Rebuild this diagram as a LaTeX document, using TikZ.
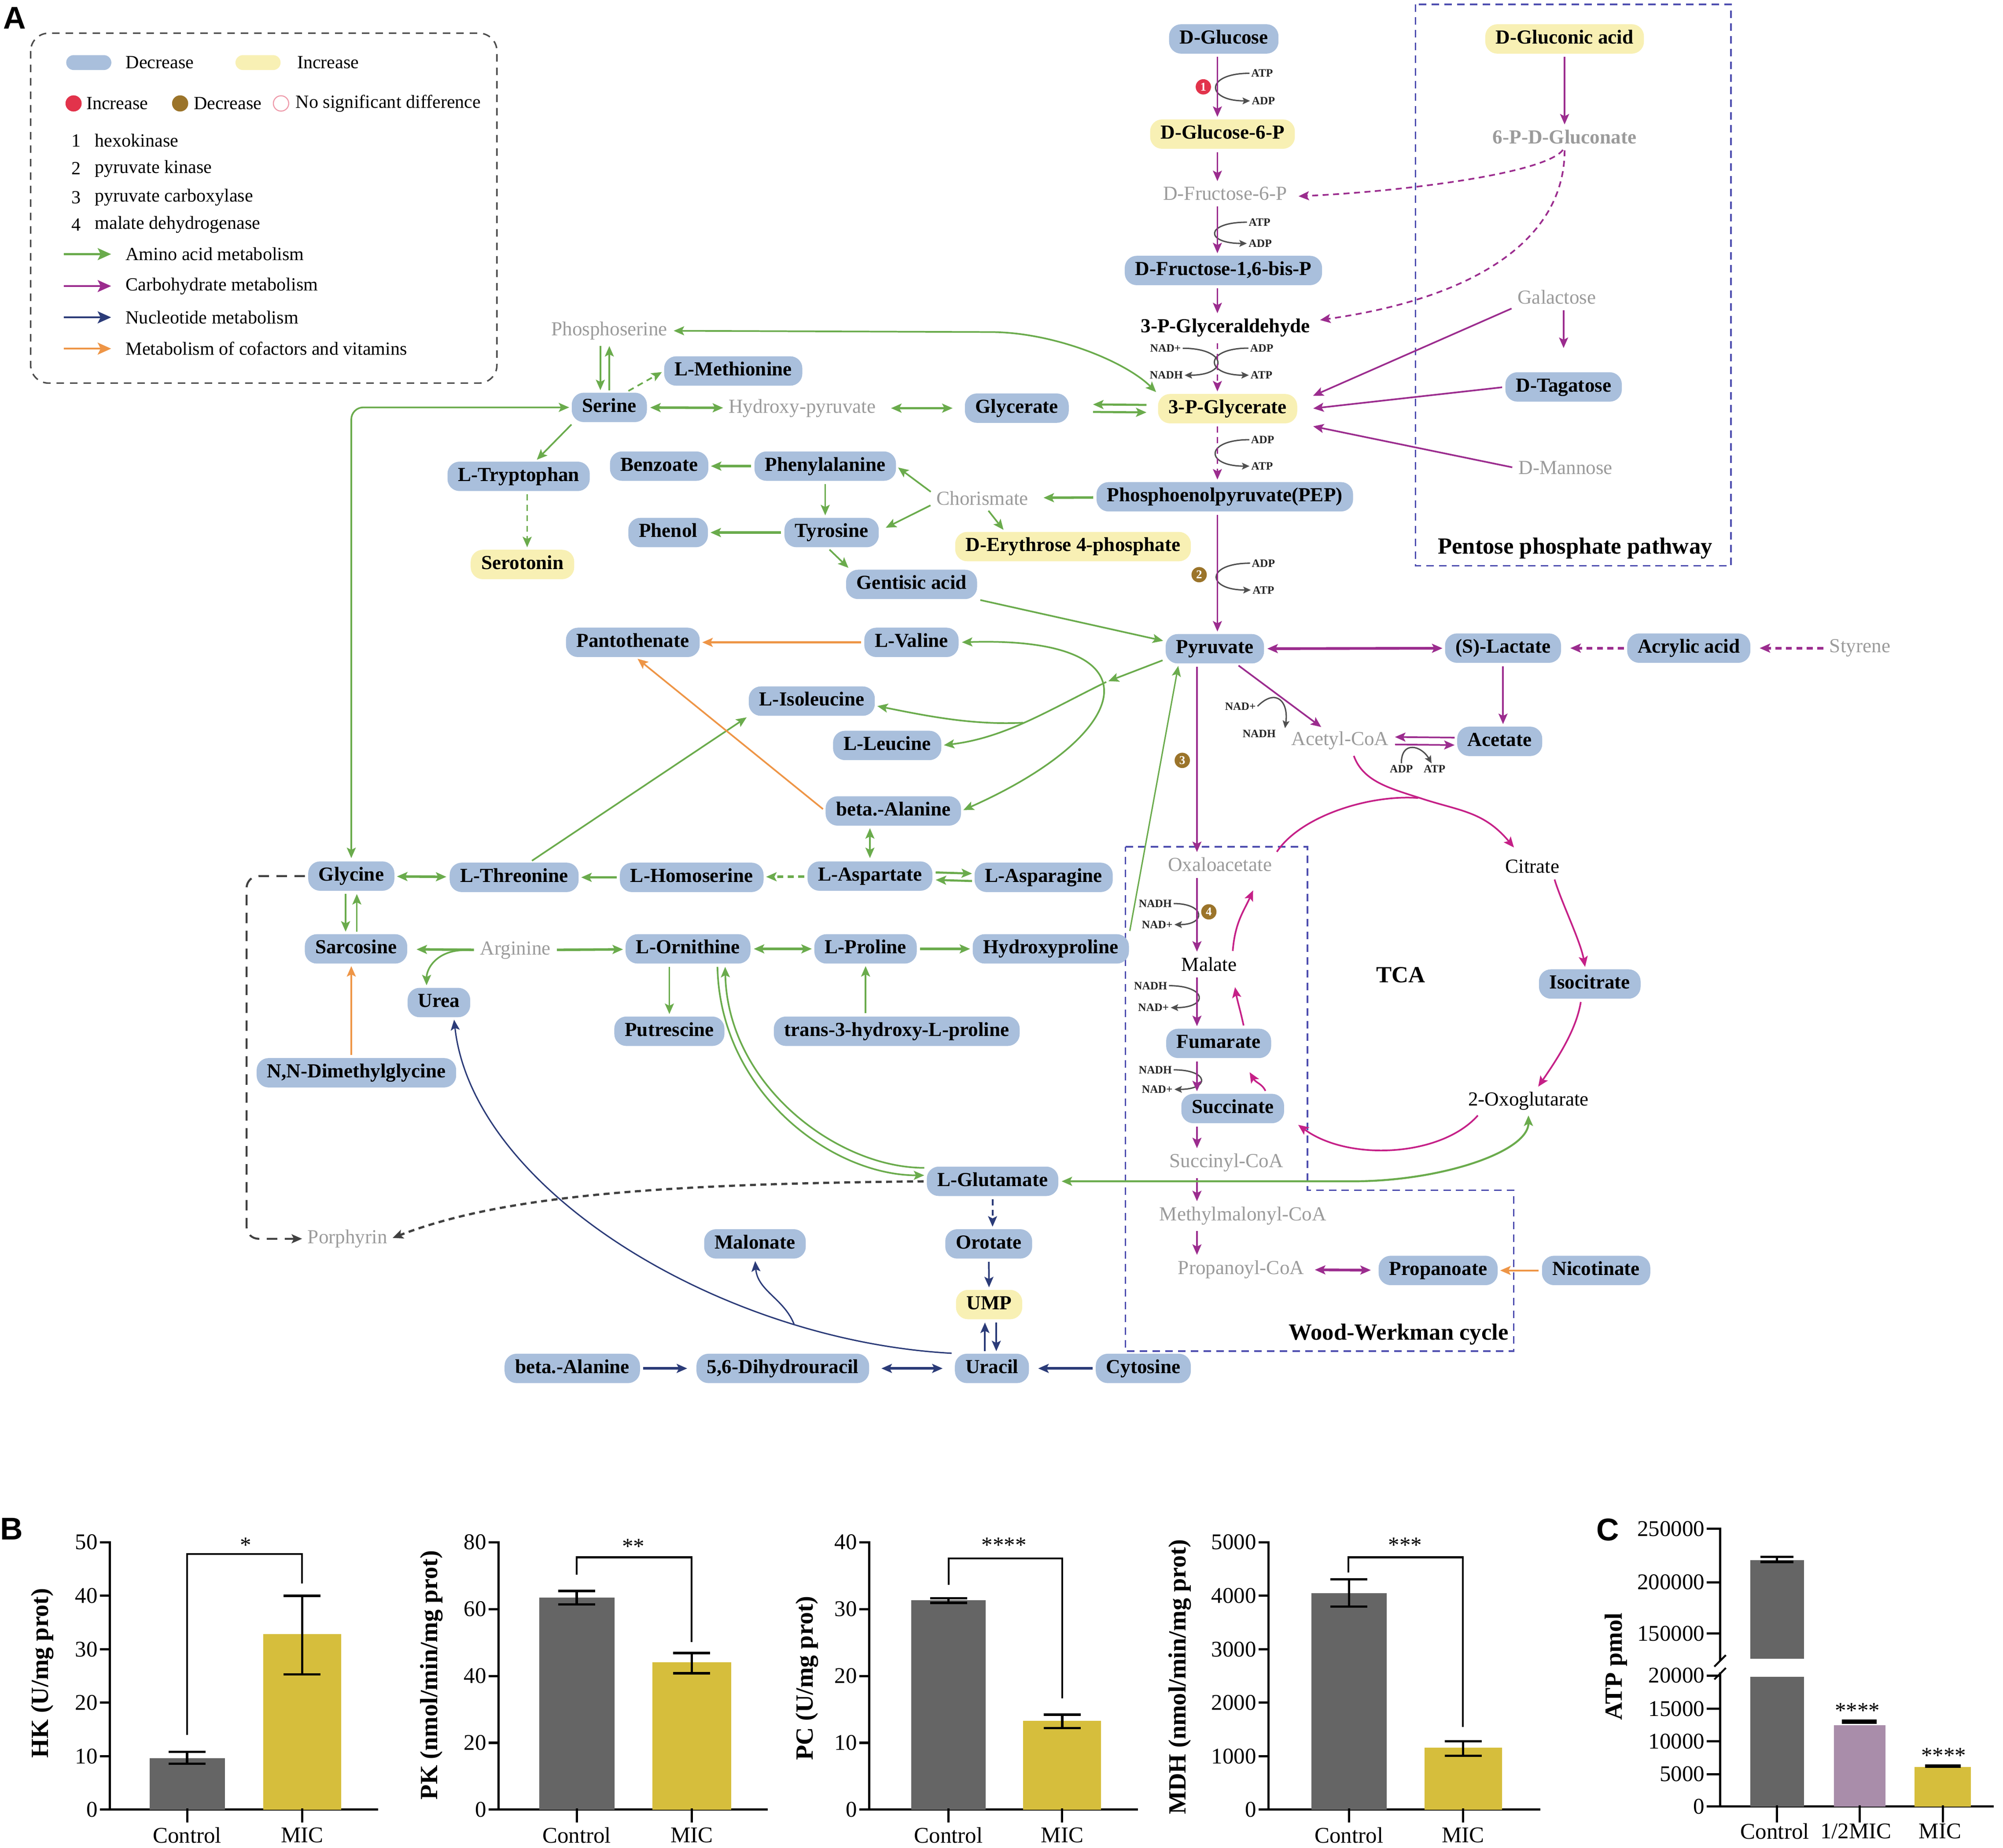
\documentclass[tikz,border=0pt]{standalone}
\usepackage{fontspec}
\setmainfont{Liberation Serif}
\setsansfont{Liberation Sans}
\usepackage{xcolor}
\usetikzlibrary{arrows.meta, calc, positioning}
\definecolor{decblue}{HTML}{A9BFDC}
\definecolor{incyellow}{HTML}{F8F0B4}
\definecolor{txtgray}{HTML}{9B9B9B}
\definecolor{aagreen}{HTML}{6AAB4C}
\definecolor{carbpurple}{HTML}{9B2C8E}
\definecolor{tcapink}{HTML}{C52087}
\definecolor{nucnavy}{HTML}{2B3B78}
\definecolor{vitorange}{HTML}{EE9546}
\definecolor{boxblue}{HTML}{4D4DAF}
\definecolor{cofgray}{HTML}{4F4F4F}
\definecolor{enzred}{HTML}{E2334B}
\definecolor{enzbrown}{HTML}{9B742A}
\definecolor{enzpink}{HTML}{EE9AAA}
\definecolor{bargray}{HTML}{656565}
\definecolor{baryellow}{HTML}{D6BE3C}
\definecolor{barmauve}{HTML}{A98DAA}

\newcommand{\metabfont}{\fontsize{13.3}{15}\selectfont\bfseries}
\newcommand{\namefont}{\fontsize{13.3}{15}\selectfont}
\newcommand{\regionfont}{\fontsize{15.5}{17}\selectfont\bfseries}
\newcommand{\coffont}{\fontsize{7.5}{8}\selectfont\bfseries}
\newcommand{\enzfont}{\fontsize{8}{8}\selectfont\bfseries}
\newcommand{\legfont}{\fontsize{12.4}{14}\selectfont}
\newcommand{\tickfont}{\fontsize{15}{17}\selectfont}
\newcommand{\axisfont}{\fontsize{16.5}{18}\selectfont\bfseries}
\newcommand{\panelfont}{\fontsize{21}{21}\selectfont\sffamily\bfseries}

\tikzset{
  % metabolite boxes
  metab/.style={
    rounded corners=8pt
    , minimum height=0.69cm
    , inner xsep=7pt
    , inner ysep=1pt
    , text height=9.3pt
    , text depth=2.9pt
    , font=\metabfont
    , anchor=center
  },
  dec/.style={metab, fill=decblue},
  inc/.style={metab, fill=incyellow},
  % metabolites without a box
  ndet/.style={font=\namefont, text=txtgray, inner sep=2pt},
  ndetb/.style={font=\metabfont, text=txtgray, inner sep=2pt},
  mtxt/.style={font=\namefont, inner sep=2pt},
  mtxtb/.style={font=\metabfont, inner sep=2pt},
  region/.style={font=\regionfont, inner sep=1pt},
  cof/.style={font=\coffont, text=black!85, inner sep=1pt},
  enz/.style={circle, fill=#1, text=white, font=\enzfont, inner sep=0pt, minimum size=0.36cm},
  pathbox/.style={draw=boxblue, line width=1pt, dash pattern=on 5pt off 3.5pt},
}
\tikzset{
  % connector styles
  flow/.style={line width=1.1pt, shorten >=1.5pt, shorten <=2pt, ->},
  dashln/.style={dash pattern=on 4pt off 3pt},
  aa/.style={flow, draw=aagreen},
  aathick/.style={aa, line width=1.7pt},
  carb/.style={flow, draw=carbpurple},
  carbthick/.style={carb, line width=1.8pt},
  tca/.style={flow, draw=tcapink},
  nuc/.style={flow, draw=nucnavy},
  nucthick/.style={nuc, line width=1.7pt},
  vit/.style={flow, draw=vitorange},
  bkdash/.style={flow, draw=black!75},
  cofarr/.style={draw=cofgray, line width=0.9pt, >={Stealth[length=5pt,width=4.5pt,inset=1pt]}, ->},
}
\tikzset{
  % legend and chart styles
  legbox/.style={draw=black!70, line width=1pt, dash pattern=on 5pt off 4pt, rounded corners=12pt},
  legpill/.style={rounded corners=5pt, minimum width=1.06cm, minimum height=0.35cm, inner sep=0pt},
  legtxt/.style={font=\legfont, anchor=west, inner sep=1pt},
  legarr/.style={line width=1.3pt, >={Stealth[length=9pt,width=8pt,inset=2pt]}, ->},
  panlab/.style={font=\panelfont, inner sep=0pt},
  axisln/.style={line width=1.5pt, line cap=rect},
  errln/.style={line width=1.6pt},
  sigln/.style={line width=1.2pt},
  ticklab/.style={font=\tickfont, inner sep=1.5pt},
  starlab/.style={font=\tickfont, inner sep=0pt},
  axlab/.style={font=\axisfont, rotate=90, inner sep=0pt},
}

\begin{document}
\begin{tikzpicture}[x=0.03cm, y=-0.03cm, >={Stealth[length=7pt,width=6pt,inset=1.5pt]}]
  \useasboundingbox (0,0) rectangle (1568,1446.7);

  % ---------------- legend ----------------
  \draw[legbox] (24,26) rectangle (389,300);
  \node[panlab] (labA) at (11.4,14) {A};
  \node[legpill, fill=decblue] (lgdec) at (69.5,49) {};
  \node[legtxt, right=0.29cm of lgdec] (lgdect) {Decrease};
  \node[legpill, fill=incyellow] (lginc) at (202,49) {};
  \node[legtxt, right=0.34cm of lginc] (lginct) {Increase};
  \node[enz=enzred, minimum size=0.38cm] (lgup) at (57.6,81) {};
  \node[legtxt, right=0.06cm of lgup] (lgupt) {Increase};
  \node[enz=enzbrown, minimum size=0.38cm] (lgdown) at (141,81) {};
  \node[legtxt, right=0.08cm of lgdown] (lgdownt) {Decrease};
  \node[circle, draw=enzpink, line width=0.7pt, minimum size=0.36cm, inner sep=0pt] (lgns) at (220,81) {};
  \node[legtxt, right=0.11cm of lgns] (lgnst) {No significant difference};
  \node[legtxt] (lgn1) at (54.5,110) {1};
  \node[legtxt, right=0.25cm of lgn1] (lgn1t) {hexokinase};
  \node[legtxt] (lgn2) at (54.5,132) {2};
  \node[legtxt, right=0.25cm of lgn2] (lgn2t) {pyruvate kinase};
  \node[legtxt] (lgn3) at (54.5,154.5) {3};
  \node[legtxt, right=0.25cm of lgn3] (lgn3t) {pyruvate carboxylase};
  \node[legtxt] (lgn4) at (54.5,176) {4};
  \node[legtxt, right=0.25cm of lgn4] (lgn4t) {malate dehydrogenase};
  \node[legtxt] (lgaa) at (97,199) {Amino acid metabolism};
  \node[legtxt] (lgcarb) at (97,224) {Carbohydrate metabolism};
  \node[legtxt] (lgnuc) at (97,248.5) {Nucleotide metabolism};
  \node[legtxt] (lgvit) at (97,273) {Metabolism of cofactors and vitamins};
  \draw[legarr, draw=aagreen] ([xshift=-1.41cm]lgaa.west) -- ([xshift=-0.3cm]lgaa.west);
  \draw[legarr, draw=carbpurple] ([xshift=-1.41cm]lgcarb.west) -- ([xshift=-0.3cm]lgcarb.west);
  \draw[legarr, draw=nucnavy] ([xshift=-1.41cm]lgnuc.west) -- ([xshift=-0.3cm]lgnuc.west);
  \draw[legarr, draw=vitorange] ([xshift=-1.41cm]lgvit.west) -- ([xshift=-0.3cm]lgvit.west);

  % ---------------- pathway boxes ----------------
  \draw[pathbox] (1108,3.5) rectangle (1355,443);
  \draw[pathbox] (881,663) -- (1023.5,663) -- (1023.5,932) -- (1185,932)
    -- (1185,1058) -- (881,1058) -- cycle;

  % ---------------- glycolysis ----------------
  \coordinate (gx) at (953,0);
  \coordinate (tx) at (937,0);
  \node[dec] (glc) at (958,30.5) {D-Glucose};
  \node[inc] (g6p) at (957,105) {D-Glucose-6-P};
  \node[ndet] (f6p) at (959,151.4) {D-Fructose-6-P};
  \node[dec] (fbp) at (957.7,211.8) {D-Fructose-1,6-bis-P};
  \node[mtxtb] (gap) at (959.3,256.7) {3-P-Glyceraldehyde};
  \node[inc] (pga) at (961,320) {3-P-Glycerate};
  \node[dec] (pep) at (958.8,389) {Phosphoenolpyruvate(PEP)};
  \node[dec] (pyr) at (951,508) {Pyruvate};

  % pentose phosphate pathway
  \node[inc] (glcn) at (1224.8,30.5) {D-Gluconic acid};
  \node[ndetb] (pgcn) at (1224.8,107.3) {6-P-D-Gluconate};
  \node[ndet] (gal) at (1218.7,232.6) {Galactose};
  \node[dec] (tag) at (1224,303) {D-Tagatose};
  \node[ndet] (man) at (1225.5,366.4) {D-Mannose};
  \node[region] (ppplab) at (1233,429.3) {Pentose phosphate pathway};

  % ---------------- amino acids ----------------
  \node[ndet] (pser) at (477,259) {Phosphoserine};
  \node[dec] (met) at (574,290.5) {L-Methionine};
  \node[dec] (ser) at (477,319) {Serine};
  \node[ndet] (hpyr) at (628,319.6) {Hydroxy-pyruvate};
  \node[dec] (glyc) at (796,319.6) {Glycerate};
  \node[dec] (trp) at (406,373) {L-Tryptophan};
  \node[inc] (sero) at (409,442) {Serotonin};
  \node[dec] (benz) at (516,365) {Benzoate};
  \node[dec] (phe) at (646,365) {Phenylalanine};
  \node[ndet] (chor) at (769,390) {Chorismate};
  \node[dec] (phenol) at (523,417) {Phenol};
  \node[dec] (tyr) at (651,417) {Tyrosine};
  \node[inc] (e4p) at (840,428) {D-Erythrose 4-phosphate};
  \node[dec] (gent) at (713.6,457.6) {Gentisic acid};
  \node[dec] (pant) at (495.4,503) {Pantothenate};
  \node[dec] (val) at (713.5,503) {L-Valine};
  \node[dec] (ile) at (635.5,549) {L-Isoleucine};
  \node[dec] (leu) at (694.5,583.7) {L-Leucine};
  \node[dec] (bala) at (699.3,635) {beta.-Alanine};
  \node[dec] (gly) at (275,686) {Glycine};
  \node[dec] (thr) at (402.5,687) {L-Threonine};
  \node[dec] (hser) at (541.5,687) {L-Homoserine};
  \node[dec] (asp) at (681,686) {L-Aspartate};
  \node[dec] (asn) at (817,687) {L-Asparagine};
  \node[dec] (sar) at (278.7,743) {Sarcosine};
  \node[ndet] (arg) at (403.5,744) {Arginine};
  \node[dec] (orn) at (538.6,743) {L-Ornithine};
  \node[dec] (pro) at (677.6,743) {L-Proline};
  \node[dec] (hyp) at (822.6,743) {Hydroxyproline};
  \node[dec] (urea) at (343.6,785) {Urea};
  \node[dec] (put) at (524,807.5) {Putrescine};
  \node[dec] (thp) at (702,807.5) {trans-3-hydroxy-L-proline};
  \node[dec] (dmg) at (279,840) {N,N-Dimethylglycine};
  \node[dec] (glu) at (777,925) {L-Glutamate};
  \node[ndet] (por) at (272,970) {Porphyrin};

  % ---------------- nucleotides ----------------
  \node[dec] (mal) at (591,974) {Malonate};
  \node[dec] (oro) at (774,974) {Orotate};
  \node[inc] (ump) at (774.3,1021.5) {UMP};
  \node[dec] (bala2) at (448,1071.5) {beta.-Alanine};
  \node[dec] (dhu) at (612.8,1071.5) {5,6-Dihydrouracil};
  \node[dec] (ura) at (776.5,1071.5) {Uracil};
  \node[dec] (cyt) at (895,1071.5) {Cytosine};

  % ---------------- TCA / Wood-Werkman ----------------
  \node[dec] (lac) at (1176.6,507.5) {(S)-Lactate};
  \node[dec] (acr) at (1322,507.5) {Acrylic acid};
  \node[ndet] (sty) at (1456,507.5) {Styrene};
  \node[ndet] (acoa) at (1049,580) {Acetyl-CoA};
  \node[dec] (acet) at (1174,580.5) {Acetate};
  \node[ndet] (oaa) at (955,677) {Oxaloacetate};
  \node[mtxt] (cit) at (1199.6,678.6) {Citrate};
  \node[mtxt] (malt) at (946.5,755) {Malate};
  \node[region] (tcalab) at (1096.7,763.5) {TCA};
  \node[dec] (icit) at (1244.5,770.5) {Isocitrate};
  \node[dec] (fum) at (954,817) {Fumarate};
  \node[dec] (suc) at (965,868) {Succinate};
  \node[mtxt] (ogl) at (1196.5,862) {2-Oxoglutarate};
  \node[ndet] (scoa) at (960,910.5) {Succinyl-CoA};
  \node[ndet] (mmcoa) at (973,952) {Methylmalonyl-CoA};
  \node[ndet] (ppcoa) at (971.5,994) {Propanoyl-CoA};
  \node[dec] (ppa) at (1125.8,994.8) {Propanoate};
  \node[dec] (nic) at (1249.5,994.8) {Nicotinate};
  \node[region] (wwlab) at (1094.9,1044.7) {Wood-Werkman cycle};

  % ---------------- cofactors and enzymes ----------------
  \node[cof] (atp1) at (988,57.4) {ATP};
  \node[cof] (adp1) at (989,79) {ADP};
  \node[cof] (atp2) at (986,174) {ATP};
  \node[cof] (adp2) at (986.5,190.6) {ADP};
  \node[cof] (nad3) at (912.4,272.7) {NAD+};
  \node[cof] (nadh3) at (913,293.8) {NADH};
  \node[cof] (adp3) at (987.7,272.6) {ADP};
  \node[cof] (atp3) at (987.5,293.8) {ATP};
  \node[cof] (adp4) at (988.4,344.3) {ADP};
  \node[cof] (atp4) at (988,365) {ATP};
  \node[cof] (adp5) at (989,441) {ADP};
  \node[cof] (atp5) at (989,462) {ATP};
  \node[cof] (nad6) at (971,553) {NAD+};
  \node[cof] (nadh6) at (985.7,574.5) {NADH};
  \node[cof] (adp7) at (1097,602) {ADP};
  \node[cof] (atp7) at (1123,602) {ATP};
  \node[cof] (nadh8) at (904.4,707.5) {NADH};
  \node[cof] (nad8) at (905.9,724) {NAD+};
  \node[cof] (nadh9) at (900.7,771.8) {NADH};
  \node[cof] (nad9) at (903,789) {NAD+};
  \node[cof] (nadh10) at (904.4,837.7) {NADH};
  \node[cof] (nad10) at (905.9,853) {NAD+};
  \node[enz=enzred] (enz1) at (942,68) {1};
  \node[enz=enzbrown] (enz2) at (938.7,450) {2};
  \node[enz=enzbrown] (enz3) at (925.5,595.4) {3};
  \node[enz=enzbrown] (enz4) at (946.3,714) {4};

  \draw[cofarr] (atp1.west) .. controls +(-35,0) and +(-35,0) .. (adp1.west);
  \draw[cofarr] (atp2.west) .. controls +(-33,0) and +(-33,0) .. (adp2.west);
  \draw[cofarr] (nad3.east) .. controls +(35,0) and +(35,0) .. (nadh3.east);
  \draw[cofarr] (adp3.west) .. controls +(-35,0) and +(-35,0) .. (atp3.west);
  \draw[cofarr] (adp4.west) .. controls +(-35,0) and +(-35,0) .. (atp4.west);
  \draw[cofarr] (adp5.west) .. controls +(-35,0) and +(-35,0) .. (atp5.west);
  \draw[cofarr] (nad6.east) .. controls +(15,-15) and +(3,-20) .. ([xshift=5pt]nadh6.north east);
  \draw[cofarr] (adp7.north) .. controls +(0,-18) and +(-8,-14) .. ([xshift=-2pt]atp7.north);
  \draw[cofarr] (nadh8.east) .. controls +(25,0) and +(25,0) .. (nad8.east);
  \draw[cofarr] (nadh9.east) .. controls +(30,0) and +(30,0) .. (nad9.east);
  \draw[cofarr] (nadh10.east) .. controls +(28,0) and +(28,0) .. (nad10.east);

  % ---------------- carbohydrate connectors ----------------
  \draw[carb] (glc.south -| gx) -- (g6p.north -| gx);
  \draw[carb] (g6p.south -| gx) -- (f6p.north -| gx);
  \draw[carb] (f6p.south -| gx) -- (fbp.north -| gx);
  \draw[carb] (fbp.south -| gx) -- (gap.north -| gx);
  \draw[carb, dashln] (gap.south -| gx) -- (pga.north -| gx);
  \draw[carb, dashln] (pga.south -| gx) -- (pep.north -| gx);
  \draw[carb] (pep.south -| gx) -- (pyr.north -| gx);
  \draw[carb] (pyr.south -| tx) -- (oaa.north -| tx);
  \draw[carb] (glcn) -- (pgcn);
  \draw[carb, dashln] (pgcn.south) .. controls +(-14,20) and +(87,-4) .. ([xshift=4pt,yshift=-2pt]f6p.east);
  \draw[carb, dashln] (pgcn.south) .. controls +(0,70) and +(127,-18) .. ([xshift=3pt,yshift=5pt]gap.east);
  \draw[carb, shorten >=16pt] (gal.south -| tag) -- (tag.north);
  \draw[carb] (gal.south west) -- ([xshift=9pt,yshift=8pt]pga.east);
  \draw[carb] (tag.west) -- ([xshift=9pt]pga.east);
  \draw[carb] (man.west) -- ([xshift=9pt,yshift=-11.5pt]pga.east);
  \draw[carbthick, <->] (pyr) -- (lac);
  \draw[carbthick, dashln, shorten >=6pt] (acr) -- (lac);
  \draw[carbthick, dashln, shorten >=6pt] (sty) -- (acr);
  \draw[carb] (lac.south) -- (lac.south |- acet.north);
  \draw[carb] ([xshift=0.5cm]pyr.south) -- ([xshift=-0.4cm]acoa.north);
  \draw[carb, <-] ([yshift=2.5pt]acoa.east) -- ([yshift=2.5pt]acet.west);
  \draw[carb] ([yshift=-2.5pt]acoa.east) -- ([yshift=-2.5pt]acet.west);

  % TCA cycle
  \coordinate (tcamrg) at (1112,625);
  \draw[tca, -] (oaa.north east) .. controls +(20,-30) and +(-40,-3) .. (tcamrg);
  \draw[tca] ([xshift=0.3cm]acoa.south) .. controls +(8,22) and +(-25,-8) .. (tcamrg)
    .. controls +(30,10) and +(-25,-30) .. ([xshift=-0.4cm,yshift=5pt]cit.north);
  \draw[tca] ([xshift=0.5cm]cit.south) .. controls +(6,20) and +(-4,-22) .. ([xshift=-0.1cm]icit.north);
  \draw[tca] ([xshift=-0.2cm]icit.south) .. controls +(-4,25) and +(15,-22) .. ([xshift=0.2cm]ogl.north);
  \draw[tca] ([xshift=0.35cm]ogl.south west) .. controls +(-30,34) and +(41,30) .. ([xshift=8pt]suc.south east);
  \draw[tca] ([xshift=0.8cm]suc.north) .. controls +(-4,-8) and +(6,10) .. ([xshift=0.7cm,yshift=-8pt]fum.south);
  \draw[tca] ([xshift=0.6cm]fum.north) .. controls +(-3,-14) and +(2,12) .. ([xshift=0.6cm,yshift=-7pt]malt.south);
  \draw[tca] ([xshift=0.55cm]malt.north) .. controls +(2,-25) and +(-8,18) .. ([xshift=0.8cm,yshift=-9pt]oaa.south);
  \draw[carb] (oaa.south -| tx) -- (malt.north -| tx);
  \draw[carb] (malt.south -| tx) -- (fum.north -| tx);
  \draw[carb] (fum.south -| tx) -- (suc.north -| tx);
  \draw[carb] (suc.south -| tx) -- (scoa.north -| tx);
  \draw[carb] (scoa.south -| tx) -- (mmcoa.north -| tx);
  \draw[carb] (mmcoa.south -| tx) -- (ppcoa.north -| tx);
  \draw[carbthick, <->, shorten <=5pt, shorten >=5pt] (ppcoa) -- (ppa);
  \draw[vit] (nic) -- (ppa);

  % ---------------- amino acid connectors ----------------
  \draw[aa, <->] (pser.east) -- ++(250,1) .. controls +(50,0) and +(-25,-25) .. (pga.north west);
  \draw[aa] ([xshift=-6pt]pser.south) -- ([xshift=-6pt]ser.north);
  \draw[aa, <-] (pser.south) -- (ser.north);
  \draw[aa, dashln] ([xshift=11pt]ser.north) -- (met.west);
  \draw[aathick, <->] (ser) -- (hpyr);
  \draw[aathick, <->, shorten <=8pt, shorten >=8pt] (hpyr) -- (glyc);
  \draw[aa, <-, line width=1.4pt] ([xshift=14pt,yshift=2.5pt]glyc.east) -- ([xshift=-6pt,yshift=2.5pt]pga.west);
  \draw[aa, line width=1.4pt] ([xshift=14pt,yshift=-2.5pt]glyc.east) -- ([xshift=-6pt,yshift=-2.5pt]pga.west);
  \draw[aa] ([xshift=-0.84cm]ser.south) -- ([xshift=0.39cm]trp.north);
  \draw[aa, dashln] ([xshift=0.2cm]trp.south) -- ([xshift=0.2cm]trp.south |- sero.north);
  \draw[aathick] (phe) -- (benz);
  \draw[aa] (phe.south) -- (phe.south |- tyr.north);
  \draw[aathick] (tyr) -- (phenol);
  \draw[aa] ([yshift=3pt]chor.west) -- (phe.east);
  \draw[aa, shorten >=5pt] ([yshift=-4pt]chor.west) -- ([yshift=1pt]tyr.east);
  \draw[aa] ([xshift=0.1cm]chor.south) -- ([xshift=-1.6cm]e4p.north);
  \draw[aathick, shorten >=8pt] (pep) -- (chor);
  \draw[aa] ([xshift=-0.1cm]tyr.south) -- ([xshift=0.1cm]gent.north west);
  \draw[aa] (gent.south east) -- ([yshift=5pt]pyr.west);
  \coordinate (pyrbr) at (866,534);
  \draw[aa] ([yshift=3pt]pyr.south west) -- (pyrbr);
  \draw[aa, shorten <=0pt] (pyrbr) .. controls +(-45,22) and +(50,-6) .. (leu.east) coordinate[pos=0.52] (ilebr);
  \draw[aa, shorten <=0pt] (ilebr) .. controls +(-40,2) and +(40,8) .. ([yshift=-3pt]ile.east);
  \draw[aa, <->] (val.east) .. controls +(160,-5) and +(135,-60) .. (bala.east);
  \draw[aa] ([xshift=0.36cm]thr.north) -- (ile.south west);
  \draw[vit, line width=1.3pt] (val) -- (pant);
  \draw[vit] (bala.west) -- ([xshift=0.07cm]pant.south);
  \draw[aa, <->] (asp.north) -- (asp.north |- bala.south);
  \draw[aathick, line width=1.4pt] ([yshift=2.5pt]asp.east) -- ([yshift=2.5pt]asn.west);
  \draw[aathick, line width=1.4pt, <-] ([yshift=-2.5pt]asp.east) -- ([yshift=-2.5pt]asn.west);
  \draw[aathick, dashln] (asp) -- (hser);
  \draw[aathick] (hser) -- (thr);
  \draw[aathick, <->] (thr) -- (gly);
  \draw[aa, <->, rounded corners=8pt] (gly.north) |- (ser.west);
  \draw[aa] ([xshift=-3.8pt]gly.south) -- ([xshift=-3.8pt]gly.south |- sar.north);
  \draw[aa, <-] ([xshift=3.7pt]gly.south) -- ([xshift=3.7pt]gly.south |- sar.north);
  \draw[aathick, shorten >=6pt] (arg) -- (sar);
  \draw[aa, shorten <=0pt] ([xshift=-8pt]arg.west) .. controls +(-22,0) and +(0,-15) .. ([xshift=-0.29cm]urea.north);
  \draw[aathick] (arg) -- (orn);
  \draw[aathick, <->] (orn) -- (pro);
  \draw[aathick] (pro) -- (hyp);
  \draw[aa] (pro.south |- thp.north) -- (pro.south);
  \draw[aa] (orn.south -| put) -- (put.north);
  \draw[vit] ([xshift=-0.12cm]dmg.north) -- ([xshift=-0.12cm]dmg.north |- sar.south);
  \draw[aa] ([xshift=0.69cm]orn.south) .. controls +(2,100) and +(-75,0) .. ([yshift=4pt]glu.west);
  \draw[aa, <-] ([xshift=0.87cm]orn.south) .. controls +(2,95) and +(-70,0) .. ([yshift=9pt]glu.west);
  \draw[aa, <->, line width=1.3pt] (glu.east) -- ++(230,0) .. controls +(70,0) and +(0,30) .. (ogl.south);
  \draw[aa, line width=0.9pt] (hyp.north east) -- ([xshift=-0.85cm]pyr.south);
  \draw[bkdash, line width=1.5pt, dash pattern=on 4pt off 3pt] (glu.west) .. controls +(-200,2) and +(90,-35) .. (por.east);
  \draw[bkdash, line width=1.3pt, dash pattern=on 7pt off 5pt, rounded corners=8pt] (gly.west) -- ++(-48,0) |- (por.west);

  % ---------------- nucleotide connectors ----------------
  \draw[nuc, dashln] (glu.south) -- (glu.south |- oro.north);
  \draw[nuc] (oro) -- (ump);
  \draw[nuc, <-] ([xshift=-2.8pt]ump.south) -- ([xshift=-2.8pt]ump.south |- ura.north);
  \draw[nuc] ([xshift=4.8pt]ump.south) -- ([xshift=4.8pt]ump.south |- ura.north);
  \draw[nucthick, shorten >=6pt] (cyt) -- (ura);
  \draw[nucthick, <->, shorten <=8pt, shorten >=8pt] (dhu) -- (ura);
  \draw[nucthick, shorten >=6pt] (bala2) -- (dhu);
  \draw[nuc, line width=0.9pt] (ura.north west) .. controls +(-183,-10) and +(15,135) .. ([xshift=0.35cm]urea.south) coordinate[pos=0.23] (malbr);
  \draw[nuc, line width=0.9pt, shorten <=0pt] (malbr) .. controls +(-8,-20) and +(2,25) .. (mal.south);

  % ---------------- panel B ----------------
  \node[panlab] (labB) at (9,1197) {B};
  % HK
  \draw[axisln] (86,1207.6) -- (86,1417) -- (295,1417);
  \foreach \v/\y in {0/1417,10/1375.1,20/1333.2,30/1291.4,40/1249.5,50/1207.6}
    \draw[axisln] (86,\y) -- (79,\y) node[ticklab, left] (hk\v) {\v};
  \fill[bargray] (117,1417) rectangle (176,1376.8);
  \fill[baryellow] (206,1417) rectangle (267,1279.6);
  \draw[errln] (146.5,1381) -- (146.5,1371.8) (132,1381) -- (161,1381) (132,1371.8) -- (161,1371.8);
  \draw[errln] (236.5,1311) -- (236.5,1249.5) (222,1311) -- (251,1311) (222,1249.5) -- (251,1249.5);
  \draw[sigln] (146.5,1358.5) -- (146.5,1216.8) -- (236.5,1216.8) -- (236.5,1240);
  \node[starlab] (hkstar) at (192.5,1210) {*};
  \draw[axisln] (146.5,1417) -- (146.5,1426) (236.5,1417) -- (236.5,1426);
  \node[ticklab] (hkc) at (146.5,1437) {Control};
  \node[ticklab] (hkm) at (236.5,1437) {MIC};
  \node[axlab] (hkl) at (33,1310) {HK (U/mg prot)};
  % PK
  \draw[axisln] (390.4,1207.6) -- (390.4,1417) -- (600,1417);
  \foreach \v/\y in {0/1417,20/1364.65,40/1312.3,60/1259.95,80/1207.6}
    \draw[axisln] (390.4,\y) -- (383.4,\y) node[ticklab, left] (pk\v) {\v};
  \fill[bargray] (422,1417) rectangle (481,1250.8);
  \fill[baryellow] (510.6,1417) rectangle (572.3,1301.5);
  \draw[errln] (451.5,1256.2) -- (451.5,1245.7) (437,1256.2) -- (466,1256.2) (437,1245.7) -- (466,1245.7);
  \draw[errln] (541.5,1310.2) -- (541.5,1294.4) (527,1310.2) -- (556,1310.2) (527,1294.4) -- (556,1294.4);
  \draw[sigln] (451.5,1233) -- (451.5,1219.4) -- (541.5,1219.4) -- (541.5,1285.7);
  \node[starlab] (pkstar) at (495.8,1211) {**};
  \draw[axisln] (451.5,1417) -- (451.5,1426) (541.5,1417) -- (541.5,1426);
  \node[ticklab] (pkc) at (451.5,1437) {Control};
  \node[ticklab] (pkm) at (541.5,1437) {MIC};
  \node[axlab] (pkl) at (337.7,1311.6) {PK (nmol/min/mg prot)};
  % PC
  \draw[axisln] (680.5,1207.6) -- (680.5,1417) -- (890,1417);
  \foreach \v/\y in {0/1417,10/1364.65,20/1312.3,30/1259.95,40/1207.6}
    \draw[axisln] (680.5,\y) -- (673.5,\y) node[ticklab, left] (pc\v) {\v};
  \fill[bargray] (713.2,1417) rectangle (771.7,1253.1);
  \fill[baryellow] (801,1417) rectangle (862,1347.4);
  \draw[errln] (742.5,1255) -- (742.5,1251.5) (728,1255) -- (757,1255) (728,1251.5) -- (757,1251.5);
  \draw[errln] (831.5,1353.2) -- (831.5,1342.6) (817,1353.2) -- (846,1353.2) (817,1342.6) -- (846,1342.6);
  \draw[sigln] (742.5,1241) -- (742.5,1220.4) -- (831.5,1220.4) -- (831.5,1330);
  \node[starlab] (pcstar) at (786,1210) {****};
  \draw[axisln] (742.5,1417) -- (742.5,1426) (831.5,1417) -- (831.5,1426);
  \node[ticklab] (pcc) at (742.5,1437) {Control};
  \node[ticklab] (pcm) at (831.5,1437) {MIC};
  \node[axlab] (pcl) at (631.8,1314) {PC (U/mg prot)};
  % MDH
  \draw[axisln] (993,1207.6) -- (993,1417) -- (1205,1417);
  \foreach \v/\y in {0/1417,1000/1375.1,2000/1333.2,3000/1291.4,4000/1249.5,5000/1207.6}
    \draw[axisln] (993,\y) -- (986,\y) node[ticklab, left] (md\v) {\v};
  \fill[bargray] (1026.5,1417) rectangle (1085.4,1247.4);
  \fill[baryellow] (1115,1417) rectangle (1175.8,1368.6);
  \draw[errln] (1056,1258) -- (1056,1236.6) (1041.5,1258) -- (1070.5,1258) (1041.5,1236.6) -- (1070.5,1236.6);
  \draw[errln] (1145.4,1374.8) -- (1145.4,1363.4) (1131,1374.8) -- (1160,1374.8) (1131,1363.4) -- (1160,1363.4);
  \draw[sigln] (1055.7,1231.3) -- (1055.7,1219.4) -- (1145.2,1219.4) -- (1145.2,1352.3);
  \node[starlab] (mdstar) at (1100,1210) {***};
  \draw[axisln] (1056,1417) -- (1056,1426) (1145.4,1417) -- (1145.4,1426);
  \node[ticklab] (mdc) at (1056,1437) {Control};
  \node[ticklab] (mdm) at (1145.4,1437) {MIC};
  \node[axlab] (mdl) at (923.7,1313) {MDH (nmol/min/mg prot)};

  % ---------------- panel C ----------------
  \node[panlab] (labC) at (1258.6,1198) {C};
  \draw[axisln] (1346.5,1197) -- (1346.5,1299.7);
  \draw[axisln] (1346.5,1310.3) -- (1346.5,1414.6) -- (1560,1414.6);
  \foreach \v/\y in {250000/1197.1,200000/1238.9,150000/1279,20000/1312,15000/1338,10000/1363.4,5000/1389.2,0/1414.6}
    \draw[axisln] (1346.5,\y) -- (1337,\y) node[ticklab, left] (atp\v) {\v};
  \draw[line width=1.2pt] (1342,1305) -- (1351,1296) (1342,1315) -- (1351,1306);
  \fill[bargray] (1370.2,1414.6) rectangle (1412.3,1312.9);
  \fill[bargray] (1370.2,1298.9) rectangle (1412.3,1221.6);
  \fill[barmauve] (1435.5,1414.6) rectangle (1476,1350.9);
  \fill[baryellow] (1498.7,1414.6) rectangle (1542.8,1383.6);
  \draw[errln] (1391,1219) -- (1391,1223) (1378,1219) -- (1404,1219) (1378,1223) -- (1404,1223);
  \draw[line width=3pt] (1442,1348) -- (1469,1348);
  \draw[line width=2.2pt] (1507,1383) -- (1535,1383);
  \node[starlab] (cstar1) at (1454,1339.6) {****};
  \node[starlab] (cstar2) at (1521.6,1374.6) {****};
  \draw[axisln] (1391,1414.6) -- (1391,1426) (1455.8,1414.6) -- (1455.8,1426) (1520.8,1414.6) -- (1520.8,1426);
  \node[ticklab] (cc) at (1389.4,1434) {Control};
  \node[ticklab] (ch) at (1452.8,1434) {1/2MIC};
  \node[ticklab] (cm) at (1518.7,1434) {MIC};
  \node[axlab] (cl) at (1265,1305) {ATP pmol};
\end{tikzpicture}
\end{document}
